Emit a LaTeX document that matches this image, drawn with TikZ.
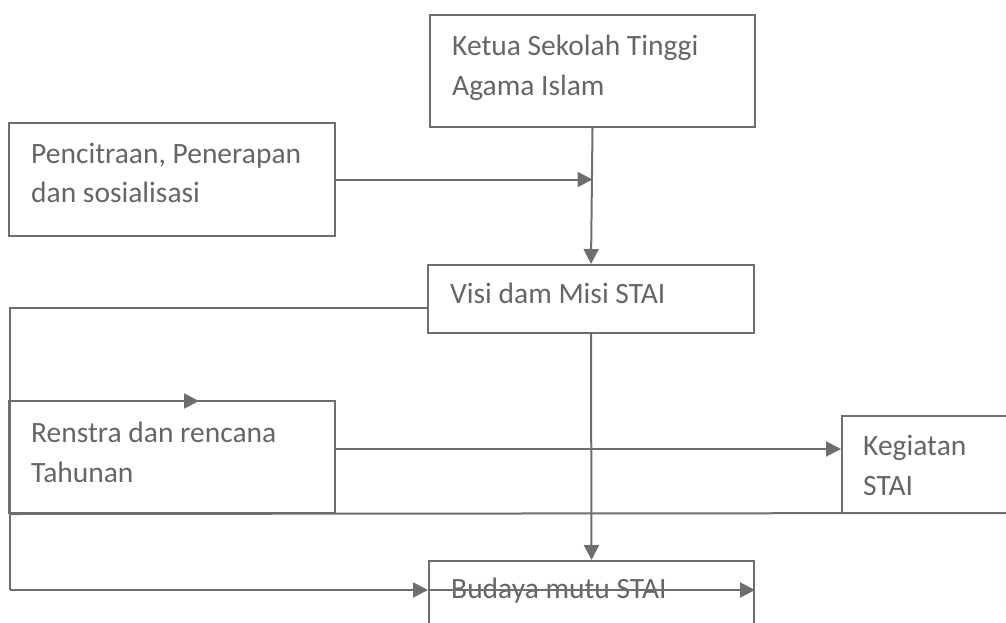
\documentclass[tikz,border=0pt]{standalone}
\usepackage{fontspec}
\setmainfont{Carlito}
\usetikzlibrary{arrows.meta,calc}
\definecolor{ink}{HTML}{6E6E6E}
\definecolor{txt}{HTML}{666666}
\begin{document}
\begin{tikzpicture}[x=1pt,y=-1pt,
  box/.style={draw=ink,line width=2pt,rectangle,inner sep=0pt,fill=white},
  lbl/.style={anchor=base west,inner sep=0pt,text=txt,font=\fontsize{29.5}{40}\selectfont},
  wire/.style={draw=ink,line width=2pt},
  arr/.style={wire,-{Triangle[length=15pt,width=15pt]}}]
\useasboundingbox (0,0) rectangle (1006,622);
\clip (0,0) rectangle (1006,622);

% boxes (given by their corners)
\node[box,minimum width=325pt,minimum height=112pt] (ketua) at (592.5,71) {};
\node[box,minimum width=326pt,minimum height=113pt] (pencitraan) at (172,179.5) {};
\node[box,minimum width=326pt,minimum height=68pt] (visi) at (591,299) {};
\node[box,minimum width=326pt,minimum height=112pt] (renstra) at (172,457) {};
\node[box,minimum width=260pt,minimum height=97pt] (kegiatan) at (972,464.5) {};
\node[box,minimum width=325pt,minimum height=90pt] (budaya) at (591.5,606) {};

% texts
\node[lbl] (t-ketua1) at (452,55) {Ketua Sekolah Tinggi};
\node[lbl] (t-ketua2) at (452,95) {Agama Islam};
\node[lbl] (t-pen1) at (31,163) {Pencitraan, Penerapan};
\node[lbl] (t-pen2) at (31,202) {dan sosialisasi};
\node[lbl] (t-visi) at (450,303) {Visi dam Misi STAI};
\node[lbl] (t-ren1) at (31,442) {Renstra dan rencana};
\node[lbl] (t-ren2) at (31,482) {Tahunan};
\node[lbl] (t-keg1) at (863,455) {Kegiatan};
\node[lbl] (t-keg2) at (863,495) {STAI};
\node[lbl] (t-bud) at (451,598) {Budaya mutu STAI};

% junction points of the connectors
\coordinate (trunktop) at (10,308);
\coordinate (trunkbot) at (10,590);
\coordinate (branch) at (10,401);
\coordinate (branchtip) at (199,401);
\coordinate (renout) at (335,449);
\coordinate (baseR) at (1010,513);

% connectors
\draw[arr] (ketua.south) -- (visi.north);
\draw[arr] (pencitraan.east) -- (pencitraan.east -| ketua.south);
\draw[wire] (visi.west |- trunktop) -- (trunktop) -- (trunkbot);
\draw[arr] (trunkbot) -- (trunkbot -| budaya.west);
\draw[arr] (trunkbot -| budaya.west) -- (trunkbot -| budaya.east);
\draw[arr] (branch) -- (branchtip);
\draw[arr] (renout) -- (renout -| kegiatan.west);
\draw[arr] (visi.south) -- (budaya.north);
\draw[wire] (renstra.south west -| trunktop) -- (baseR);
\end{tikzpicture}
\end{document}
